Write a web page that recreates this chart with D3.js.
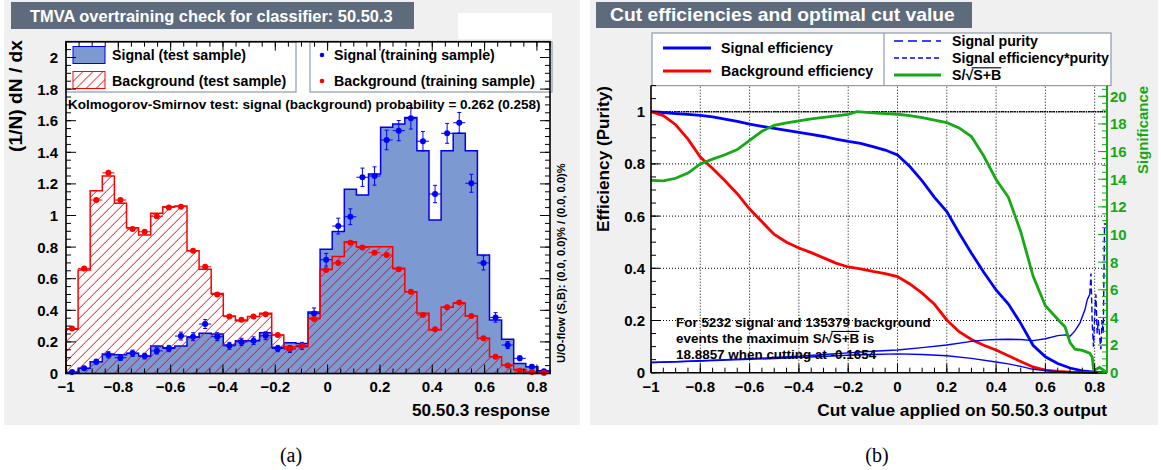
<!DOCTYPE html>
<html><head><meta charset="utf-8">
<script src="https://cdn.jsdelivr.net/npm/d3@7"></script>
<style>
body{margin:0;background:#fff}
text{font-family:"Liberation Sans",Arial,Helvetica,sans-serif;font-weight:bold}
</style>
</head><body>
<svg id="c" width="1161" height="470"></svg>
<script>
// ---------------- DATA ----------------
const nBins = 40, histMin = -1, histMax = 0.85;
const sigTest = [0.005,0.033,0.075,0.123,0.118,0.128,0.11,0.174,0.163,0.174,0.229,0.254,0.25,0.18,0.208,0.208,0.258,0.166,0.195,0.19,
  0.39,0.786,0.898,1.166,1.13,1.263,1.558,1.579,1.62,1.41,0.971,1.41,1.52,1.41,0.75,0.339,0.216,0.064,0.043,0.017];
const sigTrain = [0.01,0.033,0.075,0.118,0.10,0.128,0.11,0.143,0.158,0.237,0.233,0.313,0.233,0.175,0.20,0.208,0.239,0.158,0.155,0.175,
  0.38,0.72,0.933,0.992,1.242,1.25,1.478,1.537,1.615,1.47,1.136,1.52,1.587,1.204,0.70,0.355,0.18,0.096,0.043,0.015];
const sigTrainErr = [0.008,0.012,0.015,0.02,0.018,0.02,0.018,0.02,0.02,0.025,0.025,0.028,0.025,0.022,0.023,0.024,0.025,0.02,0.022,0.022,
  0.035,0.04,0.05,0.05,0.058,0.058,0.062,0.064,0.068,0.062,0.055,0.063,0.065,0.057,0.045,0.03,0.022,0.015,0.012,0.006];
const bkgTest = [0.28,0.655,1.157,1.25,1.077,0.923,0.877,1.014,1.056,1.06,0.777,0.66,0.507,0.364,0.334,0.36,0.381,0.244,0.17,0.17,
  0.35,0.66,0.74,0.834,0.803,0.803,0.803,0.666,0.518,0.381,0.275,0.419,0.444,0.364,0.223,0.106,0.054,0.026,0.01,0.003];
const bkgTrain = [0.285,0.665,1.098,1.27,1.098,0.915,0.897,0.995,1.05,1.056,0.777,0.675,0.50,0.36,0.34,0.36,0.375,0.244,0.16,0.176,
  0.345,0.655,0.70,0.828,0.797,0.765,0.75,0.66,0.518,0.37,0.28,0.42,0.449,0.364,0.223,0.106,0.05,0.018,0.01,0.003];
const bkgTrainErr = [0.008,0.012,0.015,0.016,0.015,0.014,0.014,0.014,0.015,0.015,0.013,0.012,0.01,0.009,0.009,0.009,0.009,0.008,0.006,0.006,
  0.009,0.012,0.013,0.014,0.014,0.014,0.014,0.012,0.011,0.009,0.008,0.01,0.01,0.009,0.007,0.005,0.004,0.003,0.002,0.001];
const histXTicks = [-1,-0.8,-0.6,-0.4,-0.2,0,0.2,0.4,0.6,0.8];
const histYTicks = [0,0.2,0.4,0.6,0.8,1,1.2,1.4,1.6,1.8,2];
const ksText = "Kolmogorov-Smirnov test: signal (background) probability = 0.262 (0.258)";

const cutX = [-1,-0.95,-0.9,-0.85,-0.8,-0.75,-0.7,-0.65,-0.6,-0.55,-0.5,-0.45,-0.4,-0.35,-0.3,-0.25,-0.2,-0.15,-0.1,-0.05,
  0,0.05,0.1,0.15,0.2,0.25,0.3,0.35,0.4,0.45,0.5,0.55,0.6,0.65,0.7,0.75,0.8,0.85];
const sigEff = [1.0,0.997,0.993,0.99,0.986,0.98,0.972,0.963,0.952,0.944,0.936,0.928,0.921,0.913,0.905,0.895,0.886,0.879,0.866,0.853,
  0.834,0.79,0.735,0.672,0.617,0.535,0.458,0.385,0.317,0.263,0.189,0.105,0.061,0.035,0.018,0.007,0.002,0];
const bkgEff = [1.0,0.985,0.95,0.895,0.826,0.782,0.735,0.686,0.627,0.578,0.53,0.5,0.478,0.46,0.44,0.42,0.405,0.398,0.388,0.38,
  0.368,0.34,0.305,0.262,0.202,0.157,0.127,0.105,0.087,0.065,0.043,0.022,0.01,0.005,0.002,0.001,0,0];
const signifX = [-1,-0.95,-0.9,-0.85,-0.8,-0.75,-0.7,-0.65,-0.6,-0.55,-0.5,-0.45,-0.4,-0.35,-0.3,-0.25,-0.2,-0.1654,-0.1,-0.05,
  0,0.05,0.1,0.15,0.2,0.25,0.3,0.35,0.4,0.45,0.5,0.55,0.6,0.65,0.68,0.7,0.72,0.75,0.78,0.79,0.795,0.8,0.82,0.85];
const significance = [13.92,13.88,14.07,14.45,15.11,15.45,15.77,16.15,16.81,17.47,17.90,18.07,18.22,18.36,18.47,18.58,18.70,18.886,18.80,18.75,
  18.70,18.60,18.45,18.28,18.09,17.71,17.09,15.68,13.98,12.69,10.20,6.99,4.85,3.87,3.3,2.17,1.70,1.61,1.42,1.13,0.28,0.19,0.38,0];
const purityX = [-1,-0.9,-0.8,-0.7,-0.6,-0.5,-0.4,-0.3,-0.2,-0.1,0,0.1,0.2,0.3,0.35,0.4,0.45,0.5,0.55,0.6,0.65,0.68,0.7,0.72,0.74,0.76,0.77,
  0.78,0.785,0.79,0.795,0.8,0.805,0.81,0.815,0.82,0.825,0.83,0.835,0.84,0.85];
const purity = [0.039,0.042,0.046,0.05,0.054,0.058,0.063,0.07,0.076,0.082,0.087,0.096,0.106,0.12,0.125,0.127,0.128,0.127,0.123,0.13,0.142,0.145,0.14,0.16,0.19,0.24,0.28,
  0.30,0.38,0.19,0.1,0.22,0.3,0.15,0.2,0.14,0.09,0.2,0.15,0.57,0.57];
const effPurX = [-1,-0.8,-0.6,-0.4,-0.2,-0.1,0,0.1,0.2,0.3,0.4,0.45,0.5,0.55,0.6,0.65,0.7,0.75,0.8,0.85];
const effPurity = [0.039,0.045,0.051,0.058,0.067,0.07,0.072,0.07,0.065,0.055,0.041,0.034,0.024,0.013,0.008,0.005,0.002,0.001,0,0];
const maxSignificance = 18.8857;
const cutXTicks = [-1,-0.8,-0.6,-0.4,-0.2,0,0.2,0.4,0.6,0.8];
const effYTicks = [0,0.2,0.4,0.6,0.8,1];
const signifTicks = [0,2,4,6,8,10,12,14,16,18,20];
const noteLines = ["For 5232 signal and 135379 background", "events the maximum ", "18.8857 when cutting at -0.1654"];

// ---------------- HELPERS ----------------
const svg = d3.select("#c");
const fmt = d => { if (Math.abs(d) < 1e-9) return "0"; const s = String(+Math.abs(d).toFixed(2)); return (d < 0 ? "\u2212" : "") + s; };
function fit(sel, w) { const L = sel.node().getComputedTextLength(); const fs = parseFloat(sel.attr("font-size")); sel.attr("font-size", fs * w / L); return sel; }
function sqrtText(g, x, y, pre, inner, post, size, color) {
  const t = g.append("text").attr("x", x).attr("y", y).attr("font-size", size).attr("fill", color)
    .text(pre + "\u221A" + inner + post);
  const n = t.node();
  const b = n.getSubStringLength(0, pre.length + 1);
  const w = n.getSubStringLength(pre.length + 1, inner.length);
  g.append("line").attr("x1", x + b - 1.5).attr("x2", x + b + w).attr("y1", y - size * 0.86).attr("y2", y - size * 0.86)
    .attr("stroke", color).attr("stroke-width", 1.1);
  return t;
}
function ticks(g, scale, vals, orient, pos, len, color) {
  vals.forEach(v => {
    const p = scale(v);
    let l;
    if (orient === "bottom") l = [p, pos, p, pos - len];
    if (orient === "top") l = [p, pos, p, pos + len];
    if (orient === "left") l = [pos, p, pos + len, p];
    if (orient === "right") l = [pos, p, pos - len, p];
    g.append("line").attr("x1", l[0]).attr("y1", l[1]).attr("x2", l[2]).attr("y2", l[3])
      .attr("stroke", color || "#000").attr("stroke-width", 1);
  });
}
const minorRange = (a, b, s) => d3.range(Math.round((b - a) / s) + 1).map(i => +(a + i * s).toFixed(4));
const defs = svg.append("defs");
// diagonal red hatch clipped to a shape
function hatchInto(g, clipId, x0, y0, x1, y1) {
  const h = g.append("g").attr("clip-path", `url(#${clipId})`);
  const H = y1 - y0;
  for (let k = x0 - H - 10; k < x1 + 10; k += 10) {
    h.append("line").attr("x1", k).attr("y1", y1).attr("x2", k + H).attr("y2", y0)
      .attr("stroke", "#ff0000").attr("stroke-width", 1);
  }
}

// ---------------- LEFT PANEL ----------------
const L = svg.append("g");
L.append("rect").attr("x", 4).attr("y", 0).attr("width", 576).attr("height", 425).attr("fill", "#f0f0f0");
L.append("rect").attr("x", 11).attr("y", 2).attr("width", 403).attr("height", 27).attr("fill", "#5d6b7d");
fit(L.append("text").attr("x", 30).attr("y", 21.5).attr("fill", "#fff").attr("font-size", 16)
  .text("TMVA overtraining check for classifier: 50.50.3"), 363);
L.append("rect").attr("x", 458).attr("y", 13).attr("width", 94).attr("height", 26).attr("fill", "#fff");

const xL = d3.scaleLinear([histMin, histMax], [66, 550]);
const yL = d3.scaleLinear([0, 2.1], [373.5, 41.7]);
L.append("rect").attr("x", 66).attr("y", yL(2.1)).attr("width", 484).attr("height", yL(0) - yL(2.1)).attr("fill", "#fff");

const edges = d3.range(nBins + 1).map(i => histMin + i * (histMax - histMin) / nBins);
function histPts(vals) { const p = vals.map((v, i) => [edges[i], v]); p.push([edges[nBins], vals[nBins - 1]]); return p; }
const area = d3.area().x(d => xL(d[0])).y0(yL(0)).y1(d => yL(d[1])).curve(d3.curveStepAfter);
const outline = d3.line().x(d => xL(d[0])).y(d => yL(d[1])).curve(d3.curveStepAfter);
const withZeros = p => [[edges[0], 0], ...p, [edges[nBins], 0]];

L.append("path").attr("d", area(histPts(sigTest))).attr("fill", "#7d99d1");
L.append("path").attr("d", outline(withZeros(histPts(sigTest)))).attr("fill", "none").attr("stroke", "#0000ee").attr("stroke-width", 1.5);
defs.append("clipPath").attr("id", "bkgClip").append("path").attr("d", area(histPts(bkgTest)));
hatchInto(L, "bkgClip", 66, yL(2.1), 550, yL(0));
L.append("path").attr("d", outline(withZeros(histPts(bkgTest)))).attr("fill", "none").attr("stroke", "#ff0000").attr("stroke-width", 1.5);

function points(vals, errs, color, caps) {
  const g = L.append("g");
  vals.forEach((v, i) => {
    const x0 = xL(edges[i]), x1 = xL(edges[i + 1]), cx = (x0 + x1) / 2, cy = yL(v);
    g.append("line").attr("x1", x0).attr("x2", x1).attr("y1", cy).attr("y2", cy).attr("stroke", color).attr("stroke-width", 1);
    const ya = yL(v - errs[i]), yb = yL(v + errs[i]);
    g.append("line").attr("x1", cx).attr("x2", cx).attr("y1", ya).attr("y2", yb).attr("stroke", color).attr("stroke-width", 1);
    if (caps) {
      [ya, yb].forEach(yy => g.append("line").attr("x1", cx - 2).attr("x2", cx + 2).attr("y1", yy).attr("y2", yy).attr("stroke", color).attr("stroke-width", 1));
    }
    g.append("circle").attr("cx", cx).attr("cy", cy).attr("r", 3).attr("fill", color);
  });
}
points(sigTrain, sigTrainErr, "#0000ff", true);
points(bkgTrain, bkgTrainErr, "#ff0000", false);

// legends
const legStroke = "#8d9bac";
L.append("rect").attr("x", 66).attr("y", 42).attr("width", 230).attr("height", 50).attr("fill", "#fff").attr("stroke", legStroke).attr("stroke-width", 1.2);
L.append("rect").attr("x", 310).attr("y", 42).attr("width", 242).attr("height", 50).attr("fill", "#fff").attr("stroke", legStroke).attr("stroke-width", 1.2);
L.append("rect").attr("x", 73).attr("y", 46.5).attr("width", 32).attr("height", 17).attr("fill", "#7d99d1").attr("stroke", "#0000ee").attr("stroke-width", 1);
defs.append("clipPath").attr("id", "legClip").append("rect").attr("x", 73).attr("y", 71.5).attr("width", 32).attr("height", 17);
hatchInto(L, "legClip", 73, 71.5, 105, 88.5);
L.append("rect").attr("x", 73).attr("y", 71.5).attr("width", 32).attr("height", 17).attr("fill", "none").attr("stroke", "#ff0000").attr("stroke-width", 1);
const legFS = 14.2;
L.append("text").attr("x", 112).attr("y", 60).attr("font-size", legFS).text("Signal (test sample)");
L.append("text").attr("x", 112).attr("y", 86).attr("font-size", legFS).text("Background (test sample)");
L.append("circle").attr("cx", 322).attr("cy", 55).attr("r", 2.3).attr("fill", "#0000ff");
L.append("circle").attr("cx", 322).attr("cy", 81).attr("r", 2.3).attr("fill", "#ff0000");
L.append("text").attr("x", 334).attr("y", 60).attr("font-size", legFS).text("Signal (training sample)");
L.append("text").attr("x", 334).attr("y", 86).attr("font-size", legFS).text("Background (training sample)");
fit(L.append("text").attr("x", 68).attr("y", 109).attr("font-size", 12).text(ksText), 473);

// axes left
const AL = L.append("g");
AL.append("rect").attr("x", 66).attr("y", yL(2.1)).attr("width", 484).attr("height", yL(0) - yL(2.1))
  .attr("fill", "none").attr("stroke", "#000").attr("stroke-width", 1.6);
const xMinorL = minorRange(-1, 0.85, 0.05), yMinorL = minorRange(0, 2.1, 0.05);
ticks(AL, xL, histXTicks, "bottom", yL(0), 9);
ticks(AL, xL, xMinorL, "bottom", yL(0), 5);
ticks(AL, xL, histXTicks, "top", yL(2.1), 9);
ticks(AL, xL, xMinorL, "top", yL(2.1), 5);
ticks(AL, yL, histYTicks, "left", 66, 10);
ticks(AL, yL, yMinorL, "left", 66, 5);
ticks(AL, yL, histYTicks, "right", 550, 10);
ticks(AL, yL, yMinorL, "right", 550, 5);
histXTicks.forEach(v => AL.append("text").attr("x", xL(v)).attr("y", 392).attr("text-anchor", "middle").attr("font-size", 15).text(fmt(v)));
histYTicks.forEach(v => AL.append("text").attr("x", 58).attr("y", yL(v)).attr("dy", "0.36em").attr("text-anchor", "end").attr("font-size", 15).text(fmt(v)));
fit(AL.append("text").attr("x", 550).attr("y", 416).attr("text-anchor", "end").attr("font-size", 16).text("50.50.3 response"), 138);
fit(AL.append("text").attr("transform", "translate(22,40) rotate(-90)").attr("text-anchor", "end").attr("font-size", 16).text("(1/N) dN / dx"), 112);
fit(AL.append("text").attr("transform", "translate(565,363) rotate(-90)").attr("text-anchor", "start").attr("font-size", 10.5)
  .text("U/O-flow (S,B): (0.0, 0.0)% / (0.0, 0.0)%"), 200);

// ---------------- RIGHT PANEL ----------------
const R = svg.append("g");
R.append("rect").attr("x", 590).attr("y", 0).attr("width", 568).attr("height", 425).attr("fill", "#f0f0f0");
R.append("rect").attr("x", 596).attr("y", 2).attr("width", 376).attr("height", 26).attr("fill", "#5d6b7d");
fit(R.append("text").attr("x", 610).attr("y", 21).attr("fill", "#fff").attr("font-size", 16).text("Cut efficiencies and optimal cut value"), 345);

const xR = d3.scaleLinear([-1, 0.85], [651, 1107]);
const yR = d3.scaleLinear([0, 1.1], [372.7, 85.6]);
const yS = d3.scaleLinear([0, 1.1 * maxSignificance], [372.7, 85.6]);
R.append("rect").attr("x", 651).attr("y", 85.6).attr("width", 456).attr("height", 372.7 - 85.6).attr("fill", "#fff");

// grid
const G = R.append("g").attr("stroke", "#000").attr("stroke-width", 1).attr("stroke-dasharray", "1,2");
cutXTicks.filter(v => v > -1).forEach(v => G.append("line").attr("x1", xR(v)).attr("x2", xR(v)).attr("y1", yR(0)).attr("y2", yR(1.1)));
effYTicks.filter(v => v > 0).forEach(v => G.append("line").attr("x1", xR(-1)).attr("x2", xR(0.85)).attr("y1", yR(v)).attr("y2", yR(v)));
R.append("line").attr("x1", xR(-1)).attr("x2", xR(0.85)).attr("y1", yR(1)).attr("y2", yR(1))
  .attr("stroke", "#000").attr("stroke-width", 1.5).attr("stroke-dasharray", "1.5,0.8");

const lineR = d3.line().x(d => xR(d[0])).y(d => yR(d[1]));
const zip = (xs, ys) => xs.map((x, i) => [x, ys[i]]);
R.append("path").attr("d", lineR(zip(cutX, sigEff))).attr("fill", "none").attr("stroke", "#0000ff").attr("stroke-width", 2.8);
R.append("path").attr("d", lineR(zip(cutX, bkgEff))).attr("fill", "none").attr("stroke", "#ff0000").attr("stroke-width", 2.8);
const purPts = zip(purityX, purity);
R.append("path").attr("d", lineR(purPts.filter(d => d[0] <= 0.78))).attr("fill", "none").attr("stroke", "#0000ff").attr("stroke-width", 1.4);
R.append("path").attr("d", lineR(purPts.filter(d => d[0] >= 0.78))).attr("fill", "none").attr("stroke", "#0000ff").attr("stroke-width", 1.4).attr("stroke-dasharray", "6,3");
R.append("path").attr("d", lineR(zip(effPurX, effPurity))).attr("fill", "none").attr("stroke", "#0000ff").attr("stroke-width", 1.4);
const green = "#17a817";
const lineS = d3.line().x(d => xR(d[0])).y(d => yS(d[1]));
R.append("path").attr("d", lineS(zip(signifX, significance))).attr("fill", "none").attr("stroke", green).attr("stroke-width", 2.8);

// note
const n1 = fit(R.append("text").attr("x", 676).attr("y", 327).attr("font-size", 13).text(noteLines[0]), 255);
const nfs = parseFloat(n1.attr("font-size"));
sqrtText(R, 676, 343, noteLines[1] + "S/", "S+B", " is", nfs, "#000");
R.append("text").attr("x", 676).attr("y", 358.5).attr("font-size", nfs).text(noteLines[2]);

// legend right
R.append("rect").attr("x", 652).attr("y", 33).attr("width", 459).attr("height", 52.6).attr("fill", "#fff").attr("stroke", legStroke).attr("stroke-width", 1.2);
R.append("line").attr("x1", 884).attr("x2", 884).attr("y1", 33).attr("y2", 85.6).attr("stroke", legStroke).attr("stroke-width", 1.2);
const legR = [
  {x1: 663, x2: 711, y: 48, c: "#0000ff", w: 2.8, d: null, tx: 721, t: "Signal efficiency"},
  {x1: 663, x2: 711, y: 71, c: "#ff0000", w: 2.8, d: null, tx: 721, t: "Background efficiency"},
  {x1: 894, x2: 941, y: 41, c: "#0000ff", w: 1.4, d: "9,5", tx: 952, t: "Signal purity"},
  {x1: 894, x2: 941, y: 58, c: "#0000ff", w: 1.4, d: "5,3", tx: 952, t: "Signal efficiency*purity"},
  {x1: 894, x2: 941, y: 75, c: green, w: 2.8, d: null, tx: 952, t: null}
];
legR.forEach(e => {
  R.append("line").attr("x1", e.x1).attr("x2", e.x2).attr("y1", e.y).attr("y2", e.y).attr("stroke", e.c).attr("stroke-width", e.w).attr("stroke-dasharray", e.d);
  if (e.t) R.append("text").attr("x", e.tx).attr("y", e.y + 5).attr("font-size", legFS).text(e.t);
});
sqrtText(R, 952, 80, "S/", "S+B", "", legFS, "#000");

// axes right
const AR = R.append("g");
AR.append("line").attr("x1", 651).attr("x2", 651).attr("y1", 85.6).attr("y2", 372.7).attr("stroke", "#000").attr("stroke-width", 1.6);
AR.append("line").attr("x1", 651).attr("x2", 1107).attr("y1", 372.7).attr("y2", 372.7).attr("stroke", "#000").attr("stroke-width", 1.6);
ticks(AR, xR, cutXTicks, "bottom", 372.7, 9);
ticks(AR, xR, minorRange(-1, 0.85, 0.05), "bottom", 372.7, 5);
ticks(AR, yR, effYTicks, "left", 651, 9);
ticks(AR, yR, minorRange(0, 1.1, 0.05), "left", 651, 5);
cutXTicks.forEach(v => AR.append("text").attr("x", xR(v)).attr("y", 392).attr("text-anchor", "middle").attr("font-size", 15).text(fmt(v)));
effYTicks.forEach(v => AR.append("text").attr("x", 645).attr("y", yR(v)).attr("dy", "0.36em").attr("text-anchor", "end").attr("font-size", 15).text(fmt(v)));
AR.append("line").attr("x1", 1107).attr("x2", 1107).attr("y1", 85.6).attr("y2", 372.7).attr("stroke", green).attr("stroke-width", 2);
ticks(AR, yS, signifTicks, "right", 1107, 9, green);
ticks(AR, yS, minorRange(0, 20.5, 0.5), "right", 1107, 5, green);
signifTicks.forEach(v => AR.append("text").attr("x", 1110).attr("y", yS(v)).attr("dy", "0.36em").attr("font-size", 15).attr("fill", green).text(v));
fit(AR.append("text").attr("x", 1107).attr("y", 416).attr("text-anchor", "end").attr("font-size", 16).text("Cut value applied on 50.50.3 output"), 290);
fit(AR.append("text").attr("transform", "translate(609,86) rotate(-90)").attr("text-anchor", "end").attr("font-size", 16).text("Efficiency (Purity)"), 146);
fit(AR.append("text").attr("transform", "translate(1148,86) rotate(-90)").attr("text-anchor", "end").attr("font-size", 16).attr("fill", green).text("Significance"), 88);

// captions
svg.append("text").attr("x", 291).attr("y", 462).attr("text-anchor", "middle").attr("font-size", 20)
  .style("font-family", "'Liberation Serif','DejaVu Serif',serif").style("font-weight", "normal").text("(a)");
svg.append("text").attr("x", 877).attr("y", 462).attr("text-anchor", "middle").attr("font-size", 20)
  .style("font-family", "'Liberation Serif','DejaVu Serif',serif").style("font-weight", "normal").text("(b)");
</script>
</body></html>
